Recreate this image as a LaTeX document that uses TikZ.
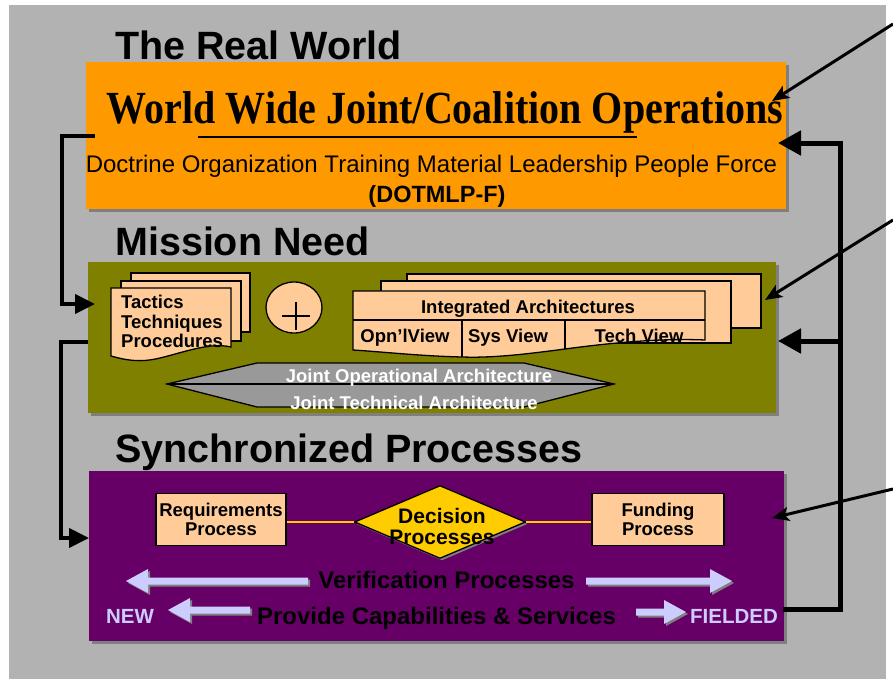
\documentclass[tikz,border=0pt]{standalone}
\usepackage{graphicx}
\usepackage{fontspec}
\setmainfont{Liberation Sans}
\newfontfamily\opsfont{Liberation Serif}
\usetikzlibrary{arrows.meta,positioning,shapes.geometric,shadows}
\definecolor{rworange}{HTML}{FF9900}
\definecolor{mnolive}{HTML}{808000}
\definecolor{sppurple}{HTML}{660066}
\definecolor{peach}{HTML}{FFCC99}
\definecolor{dgold}{HTML}{FFCC00}
\definecolor{bggray}{HTML}{B2B2B2}
\definecolor{lav}{HTML}{CCCCFF}
\definecolor{hexgray}{HTML}{999999}
\definecolor{shadowgray}{HTML}{7F7F7F}
\newcommand{\fs}[1]{\fontsize{#1}{#1}\selectfont}
% block arrow: tip x, tail x, middle y
\newcommand{\blockarrow}[3]{%
  \pgfmathsetmacro{\baHead}{#1<#2 ? 22 : -22}
  \fill[blockarrow] (#1,#3) -- ++(\baHead,-12) -- ++(0,8.5)
    -- (#2,#3-3.5) -- (#2,#3+3.5) -- (#1+\baHead,#3+3.5) -- ++(0,8.5) -- cycle;}

\begin{document}
\begin{tikzpicture}[x=1pt,y=-1pt,
  title/.style={font=\bfseries\fs{39.5},anchor=base west,inner sep=0},
  panel/.style={inner sep=0,drop shadow={shadow xshift=3pt,shadow yshift=-3pt,fill=shadowgray,opacity=1}},
  sheet/.style={draw,fill=peach,line width=1.3pt},
  lbl/.style={font=\bfseries\fs{18.5},inner sep=0,anchor=base},
  procbox/.style={draw,fill=peach,line width=1.5pt,inner sep=0,align=center,
    font=\bfseries\fontsize{18.5}{19}\selectfont},
  fbline/.style={line width=4pt},
  fbright/.style={line width=5pt},
  callout/.style={line width=3pt,-{Stealth[length=17pt,width=14pt,inset=4pt]}},
  linkline/.style={draw=dgold,line width=1.6pt,preaction={draw=black!55!dgold,line width=2.8pt}},
  blockarrow/.style={fill=lav,drop shadow={shadow xshift=2pt,shadow yshift=-2pt,fill=shadowgray,opacity=1}}]
  % ---- canvas ----
  \fill[white] (0,0) rectangle (893,682);
  \fill[bggray] (9,5) rectangle (886,679);
  \useasboundingbox (0,0) rectangle (893,682);
  % ---- section titles ----
  \node[title] (realworld) at (115,60) {The Real World};
  \node[title] (missionneed) at (115,255) {Mission Need};
  \node[title] (syncproc) at (115,462) {Synchronized Processes};
  % ---- the real world ----
  \node[panel,fill=rworange,minimum width=700pt,minimum height=147pt] (world) at (436,135.5) {};
  \node[font=\opsfont\bfseries,inner sep=0,anchor=base] (ops) at (445,123)
        {\scalebox{0.87}[1]{\fs{46}World Wide Joint/Coalition Operations}};
  \draw[line width=2pt] (198,137) -- (637,137);
  \node[font=\fs{24},inner sep=0,anchor=base] (dotmlp) at (431.5,172)
        {Doctrine Organization Training Material Leadership People Force};
  \node[font=\bfseries\fs{23.5},inner sep=0,anchor=base] (dotmlpf) at (437,202) {(DOTMLP-F)};
  % ---- mission need ----
  \node[panel,fill=mnolive,minimum width=688pt,minimum height=151pt] (mission) at (432,337.5) {};
  \filldraw[sheet] (131,273) rectangle (250,332);
  \filldraw[sheet] (121,281) rectangle (241,341);
  \filldraw[sheet] (111,288) -- (231,288) -- (231,347) .. controls (210,342) and (185,352) .. (160,358)
        .. controls (140,363) and (125,360) .. (111,356) -- cycle;
  \node[font=\bfseries\fontsize{18.5}{19.5}\selectfont,align=left,inner sep=0,anchor=north west] (ttp)
        at (121,295) {Tactics\\Techniques\\Procedures};
  \node[ellipse,draw,fill=peach,line width=1.3pt,minimum width=56pt,minimum height=51pt,inner sep=0]
        (plus) at (294,307.5) {};
  \draw[line width=2pt] ([shift={(-12,8.5)}]plus.center) -- ++(28,0);
  \draw[line width=2pt] ([shift={(2,-5.5)}]plus.center) -- ++(0,28);
  \filldraw[sheet] (407,274) rectangle (761,328);
  \filldraw[sheet] (381,281) rectangle (731,343);
  \filldraw[sheet] (353,291) -- (705,291) -- (705,340) .. controls (660,338) and (610,343) .. (565,349)
        .. controls (520,355) and (490,358) .. (462,357) .. controls (420,356) and (385,352) .. (353,350) -- cycle;
  \draw[line width=1.3pt] (353,320) -- (705,320);
  \draw[line width=1.3pt] (462,320) -- (462,357);
  \draw[line width=1.3pt] (565,320) -- (565,349);
  \node[lbl] (ia) at (528,313) {Integrated Architectures};
  \node[lbl] (opnview) at (405,342) {Opn’lView};
  \node[lbl] (sysview) at (508,342) {Sys View};
  \node[lbl] (techview) at (639,342) {Tech View};
  \filldraw[fill=hexgray,line width=1.3pt] (167,384) -- (257,363) -- (524,363) -- (614,384)
        -- (524,407) -- (257,407) -- cycle;
  \draw[line width=1.3pt] (167,384) -- (614,384);
  \node[lbl,white] (jopa) at (419,382) {Joint Operational Architecture};
  \node[lbl,white] (jta) at (414,409) {Joint Technical Architecture};
  % ---- synchronized processes ----
  \node[panel,fill=sppurple,minimum width=695pt,minimum height=170pt] (sync) at (436.5,556) {};
  \node[procbox,minimum width=130pt,minimum height=52pt] (req) at (221,519.5) {Requirements\\Process};
  \node[procbox,minimum width=132pt,minimum height=52pt] (fund) at (658,519.5) {Funding\\Process};
  \node[diamond,draw,fill=dgold,line width=1.3pt,minimum width=171pt,minimum height=73pt,inner sep=0,
        drop shadow={shadow xshift=2pt,shadow yshift=-2pt,fill=shadowgray,opacity=1}] (decision) at (440,522) {};
  \draw[linkline] (req.east |- decision.west) -- (decision.west);
  \draw[linkline] (decision.east) -- (fund.west |- decision.east);
  \node[font=\bfseries\fontsize{21}{21}\selectfont,align=center,inner sep=0] (decisiontxt)
        at (442,526) {Decision\\Processes};
  \blockarrow{126}{308}{581}
  \blockarrow{732}{586}{581}
  \node[font=\bfseries\fs{24},inner sep=0,anchor=base] (verif) at (446.5,588) {Verification Processes};
  \blockarrow{168}{250}{610}
  \blockarrow{686}{636}{612}
  \node[font=\bfseries\fs{24},inner sep=0,anchor=base] (provide) at (436.5,624) {Provide Capabilities \& Services};
  \node[font=\bfseries\fs{20.5},text=lav,inner sep=0,anchor=base] (new) at (130,623) {NEW};
  \node[font=\bfseries\fs{20.5},text=lav,inner sep=0,anchor=base] (fielded) at (734,623) {FIELDED};
  % ---- feedback loops ----
  \coordinate (ttpin) at (95,304);
  \coordinate (syncin) at (89,538);
  \draw[fbline,-{Triangle[length=20pt,width=19pt]}] ([xshift=9pt]world.west) -- ++(-33,0) |- (ttpin);
  \draw[fbline,-{Triangle[length=20pt,width=19pt]}] ([yshift=-4pt]mission.west) -- ++(-27,0) |- (syncin);
  \coordinate (worldin) at (778,143);
  \coordinate (missionin) at (778,341);
  \coordinate (rail) at (840,341);
  \draw[fbright,-{Triangle[length=23pt,width=24pt]}] ([xshift=5pt,yshift=6pt]fielded.east)
        -| (worldin -| rail) -- (worldin);
  \draw[fbright,-{Triangle[length=23pt,width=24pt]}] (rail) -- (missionin);
  % ---- callouts from the margin ----
  \coordinate (calloutA) at (893,24);
  \coordinate (opstip) at (772,101);
  \coordinate (calloutB) at (893,220);
  \coordinate (iatip) at (765,300);
  \coordinate (calloutC) at (893,489);
  \coordinate (synctip) at (772,518);
  \draw[callout] (calloutA) -- (opstip);
  \draw[callout] (calloutB) -- (iatip);
  \draw[callout] (calloutC) -- (synctip);
\end{tikzpicture}
\end{document}
